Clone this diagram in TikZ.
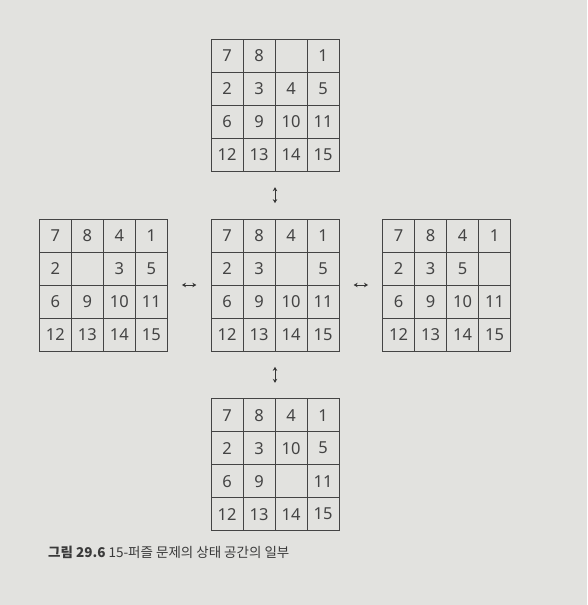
\documentclass[tikz,border=0pt]{standalone}
\usepackage{fontspec}
\usepackage{tikz}
\usetikzlibrary{positioning,calc,matrix,arrows.meta}
\newfontfamily\krfont{Noto Sans CJK KR}
\newfontfamily\numfont{Noto Sans}
\definecolor{pagegray}{RGB}{226,226,223}
\definecolor{inkgray}{RGB}{68,68,68}

\begin{document}
\begin{tikzpicture}[node distance=40pt and 36pt,
    puzzle grid/.style={matrix of nodes, nodes in empty cells,
        column sep=-0.6pt, row sep=-0.6pt,
        nodes={rectangle, draw=inkgray, line width=0.6pt, minimum width=32pt, minimum height=33pt,
            inner sep=0pt, anchor=center, text=inkgray, font=\numfont\fontsize{16.5}{16.5}\selectfont}},
    move arrow/.style={{Stealth[length=4pt,width=4.5pt]}-{Stealth[length=4pt,width=4.5pt]}, draw=inkgray!80!black, line width=0.8pt}]

    \useasboundingbox (0,0) rectangle (587pt,-605pt);
    \fill [pagegray] (0,0) rectangle (587pt,-605pt);

    \matrix (mid) [puzzle grid] at (275pt,-285pt) {
        7 & 8 & 4 & 1 \\
        2 & 3 &   & 5 \\
        6 & 9 & 10 & 11 \\
        12 & 13 & 14 & 15 \\
    };
    \matrix (top) [puzzle grid, above=of mid] {
        7 & 8 &   & 1 \\
        2 & 3 & 4 & 5 \\
        6 & 9 & 10 & 11 \\
        12 & 13 & 14 & 15 \\
    };
    \matrix (left) [puzzle grid, left=of mid] {
        7 & 8 & 4 & 1 \\
        2 &   & 3 & 5 \\
        6 & 9 & 10 & 11 \\
        12 & 13 & 14 & 15 \\
    };
    \matrix (right) [puzzle grid, right=of mid] {
        7 & 8 & 4 & 1 \\
        2 & 3 & 5 &   \\
        6 & 9 & 10 & 11 \\
        12 & 13 & 14 & 15 \\
    };
    \matrix (bottom) [puzzle grid, below=of mid] {
        7 & 8 & 4 & 1 \\
        2 & 3 & 10 & 5 \\
        6 & 9 &   & 11 \\
        12 & 13 & 14 & 15 \\
    };

    \draw [move arrow] ($(top.south)!0.3!(mid.north)$) -- ($(top.south)!0.7!(mid.north)$);
    \draw [move arrow] ($(mid.south)!0.3!(bottom.north)$) -- ($(mid.south)!0.7!(bottom.north)$);
    \draw [move arrow] ($(left.east)!0.3!(mid.west)$) -- ($(left.east)!0.7!(mid.west)$);
    \draw [move arrow] ($(mid.east)!0.3!(right.west)$) -- ($(mid.east)!0.7!(right.west)$);

    \node (caption) [anchor=base west, inner sep=0pt, text=inkgray!85!black, font=\krfont\fontsize{13.5}{16}\selectfont]
        at (48pt,-557pt) {{\bfseries 그림 29.6} 15-퍼즐 문제의 상태 공간의 일부};

\end{tikzpicture}
\end{document}
